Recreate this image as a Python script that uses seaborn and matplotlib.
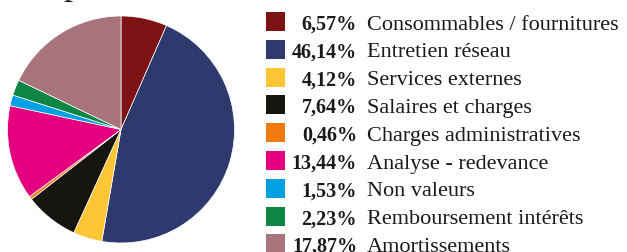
import matplotlib
matplotlib.use("Agg")
import matplotlib.pyplot as plt
import seaborn as sns
from matplotlib.patches import Rectangle

# Data
labels = ["Consommables / fournitures", "Entretien réseau", "Services externes",
          "Salaires et charges", "Charges administratives", "Analyse - redevance",
          "Non valeurs", "Remboursement intérêts", "Amortissements"]
shares = [6.57, 46.14, 4.12, 7.64, 0.46, 13.44, 1.53, 2.23, 17.87]
colors = ["#7e1315", "#2e3a6e", "#fec534", "#17150f", "#f07a10",
          "#e4007f", "#00a0e3", "#0e8543", "#a8747c"]

sns.set_style("white")
plt.rcParams["font.family"] = ["Liberation Serif", "DejaVu Serif"]
palette = sns.color_palette(colors)

W, H = 627, 252
fig = plt.figure(figsize=(W / 100, H / 100), dpi=100)

# Pie
cx, cy, r = 121, 129.5, 113.5
ax = fig.add_axes([(cx - r) / W, (H - cy - r) / H, 2 * r / W, 2 * r / H])
ax.pie(shares, colors=palette, startangle=90, counterclock=False, radius=1,
       wedgeprops=dict(edgecolor="white", linewidth=0.5))
ax.set_xlim(-1, 1)
ax.set_ylim(-1, 1)
ax.set_aspect("equal")
ax.axis("off")

# cut-off title remnant at the top
fig.text(63 / W, 1 + 6 / H, "p", fontsize=26, color="#222222",
         ha="left", va="baseline")

# Legend
lg = fig.add_axes([0, 0, 1, 1])
lg.set_xlim(0, W)
lg.set_ylim(H, 0)
lg.axis("off")
lg.patch.set_alpha(0)
y0, step = 21.5, 27.8
for i, (lab, v) in enumerate(zip(labels, shares)):
    yc = y0 + i * step
    lg.add_patch(Rectangle((266, yc - 9.5), 19, 19, facecolor=palette[i],
                           edgecolor="none"))
    pct = f"{v:.2f}".replace(".", ",") + "%"
    lg.text(357, yc + 8, pct, ha="right", va="baseline", fontsize=14.5,
            fontweight="bold", color="#1a1a1a")
    lg.text(367, yc + 8, lab, ha="left", va="baseline", fontsize=16,
            color="#1a1a1a")

fig.savefig("out.png", dpi=100)
